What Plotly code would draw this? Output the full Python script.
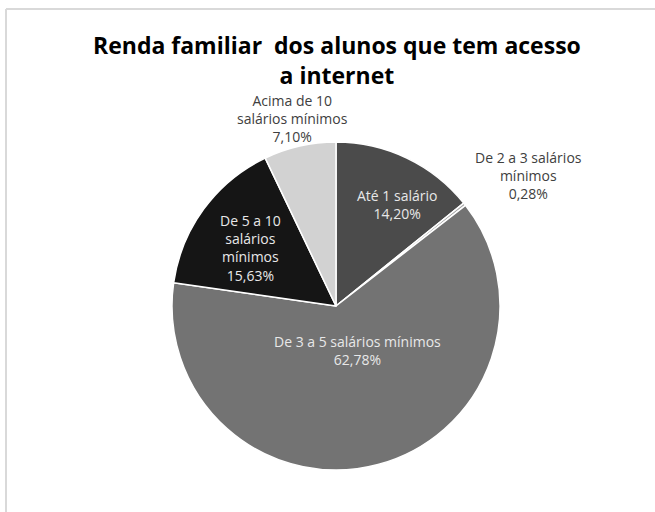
import plotly.graph_objects as go

W, H = 655, 512

categories = ["Até 1 salário", "De 2 a 3 salários mínimos", "De 3 a 5 salários mínimos",
              "De 5 a 10 salários mínimos", "Acima de 10 salários mínimos"]
values = [14.20, 0.28, 62.78, 15.63, 7.10]
# label line-broken versions (as shown in the chart)
label_lines = ["Até 1 salário", "De 2 a 3 salários<br>mínimos", "De 3 a 5 salários mínimos",
               "De 5 a 10<br>salários<br>mínimos", "Acima de 10<br>salários mínimos"]
colors = ["#4b4b4b", "#a5a5a5", "#737373", "#151515", "#d2d2d2"]
title_text = "Renda familiar  dos alunos que tem acesso<br>a internet"

# label placement (pixels) and colours
label_pos = [(397, 204), (528, 175), (357, 350), (250, 248), (292, 118)]
label_col = ["#e8e8e8", "#404040", "#e8e8e8", "#e8e8e8", "#404040"]

cx, cy, r = 336, 306, 164

def px(x):
    return x / W

def py(y):
    return 1 - y / H

fig = go.Figure(go.Pie(
    labels=categories,
    values=values,
    sort=False,
    direction="clockwise",
    rotation=0,
    marker=dict(colors=colors, line=dict(color="white", width=1.5)),
    textinfo="none",
    hoverinfo="label+percent",
    showlegend=False,
    domain=dict(x=[px(cx - r), px(cx + r)], y=[py(cy + r), py(cy - r)]),
))

def fmt(v):
    return f"{v:.2f}".replace(".", ",") + "%"

for lab, v, (x, y), c in zip(label_lines, values, label_pos, label_col):
    fig.add_annotation(
        x=px(x), y=py(y), xref="paper", yref="paper",
        text=f"{lab}<br>{fmt(v)}", showarrow=False,
        font=dict(family="Open Sans", size=14, color=c),
        align="center", xanchor="center", yanchor="middle",
    )

fig.add_annotation(
    x=px(337), y=py(60), xref="paper", yref="paper",
    text=f"<b>{title_text}</b>", showarrow=False,
    font=dict(family="Open Sans", size=23, color="#000000"),
    align="center", xanchor="center", yanchor="middle",
)

# chart frame (top and left edges visible)
fig.add_shape(type="line", xref="paper", yref="paper",
              x0=px(6), x1=1.0, y0=py(9), y1=py(9),
              line=dict(color="#d9d9d9", width=2))
fig.add_shape(type="line", xref="paper", yref="paper",
              x0=px(6), x1=px(6), y0=py(9), y1=0,
              line=dict(color="#d9d9d9", width=2))

fig.update_layout(
    width=W, height=H,
    margin=dict(l=0, r=0, t=0, b=0),
    paper_bgcolor="white", plot_bgcolor="white",
)

fig.write_html("out.html", config={"displayModeBar": False},
               post_script="document.body.style.margin='0';document.body.style.overflow='hidden';")
